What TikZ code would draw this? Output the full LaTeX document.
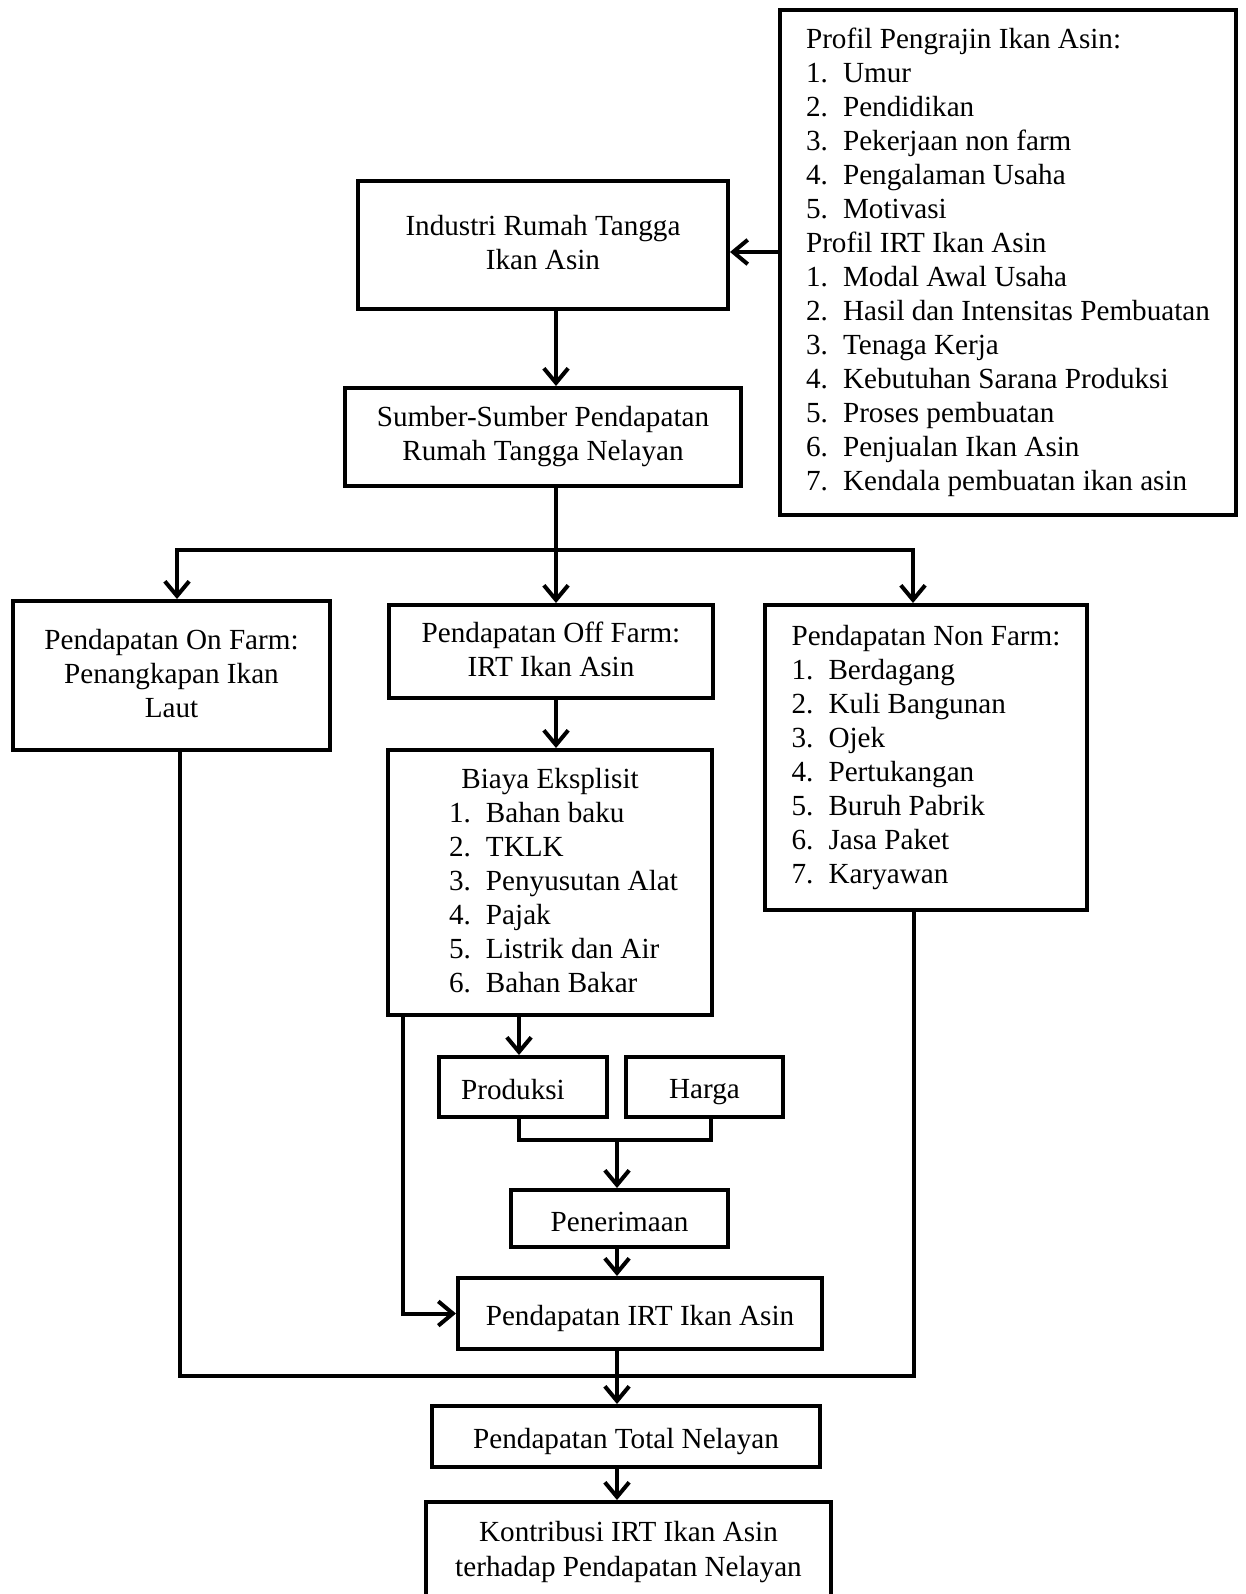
\documentclass[tikz,border=0pt]{standalone}
\usepackage{fontspec}
\setmainfont{Liberation Serif}
\usetikzlibrary{arrows.meta, positioning}
\newlength{\px}
\setlength{\px}{0.4115pt}
\newcommand{\butir}[2]{\makebox[37\px][l]{#1.}#2}
\newcommand{\penyangga}{\rule[-1.85pt]{0pt}{14pt}}

\begin{document}
\begin{tikzpicture}[
  x=0.4115pt, y=-0.4115pt,
  % Estilos de nodos
  kotak/.style={
    rectangle, draw=black, line width=1.65pt,
    align=center, inner sep=0pt,
    font=\fontsize{12}{14}\selectfont,
    execute at begin node=\penyangga,
    execute at end node=\penyangga
  },
  kotakDaftar/.style={
    kotak, align=left
  },
  % Estilo de flechas
  panah/.style={
    -{Straight Barb[length=6pt, width=10pt]}, line width=1.65pt
  },
  garis/.style={
    line width=1.65pt
  }
]

\path[use as bounding box, fill=white] (0,0) rectangle (1246,1594);

% --- Profil ---
\node[kotakDaftar, minimum width=456\px, minimum height=505\px]
  (profil) at (1008, 262.5) {Profil Pengrajin Ikan Asin:\\
  \butir{1}{Umur}\\
  \butir{2}{Pendidikan}\\
  \butir{3}{Pekerjaan non farm}\\
  \butir{4}{Pengalaman Usaha}\\
  \butir{5}{Motivasi}\\
  Profil IRT Ikan Asin\\
  \butir{1}{Modal Awal Usaha}\\
  \butir{2}{Hasil dan Intensitas Pembuatan}\\
  \butir{3}{Tenaga Kerja}\\
  \butir{4}{Kebutuhan Sarana Produksi}\\
  \butir{5}{Proses pembuatan}\\
  \butir{6}{Penjualan Ikan Asin}\\
  \butir{7}{Kendala pembuatan ikan asin}};

% --- Nivel superior ---
\node[kotak, minimum width=370\px, minimum height=128\px]
  (industri) at (543, 245) {Industri Rumah Tangga\\Ikan Asin};
\node[kotak, minimum width=396\px, minimum height=98\px]
  (sumber) at (543, 437) {Sumber-Sumber Pendapatan\\Rumah Tangga Nelayan};

% --- Sumber pendapatan ---
\node[kotak, minimum width=317\px, minimum height=149\px]
  (onfarm) at (171.5, 675.5) {Pendapatan On Farm:\\Penangkapan Ikan\\Laut};
\node[kotak, minimum width=324\px, minimum height=93\px]
  (offfarm) at (551, 651.5) {Pendapatan Off Farm:\\IRT Ikan Asin};
\node[kotakDaftar, minimum width=322\px, minimum height=305\px]
  (nonfarm) at (926, 757.5) {Pendapatan Non Farm:\\
  \butir{1}{Berdagang}\\
  \butir{2}{Kuli Bangunan}\\
  \butir{3}{Ojek}\\
  \butir{4}{Pertukangan}\\
  \butir{5}{Buruh Pabrik}\\
  \butir{6}{Jasa Paket}\\
  \butir{7}{Karyawan}};

% --- Biaya dan penerimaan ---
\node[kotakDaftar, minimum width=324\px, minimum height=265\px]
  (biaya) at (550, 882.5) {\makebox[304\px]{Biaya Eksplisit}\\
  \hspace*{51\px}\butir{1}{Bahan baku}\\
  \hspace*{51\px}\butir{2}{TKLK}\\
  \hspace*{51\px}\butir{3}{Penyusutan Alat}\\
  \hspace*{51\px}\butir{4}{Pajak}\\
  \hspace*{51\px}\butir{5}{Listrik dan Air}\\
  \hspace*{51\px}\butir{6}{Bahan Bakar}};
\node[kotak, minimum width=168\px, minimum height=60\px]
  (produksi) at (523, 1087) {Produksi\hspace*{20\px}};
\node[kotak, minimum width=157\px, minimum height=60\px]
  (harga) at (704.5, 1087) {Harga};
\node[kotak, minimum width=217\px, minimum height=57\px]
  (penerimaan) at (619.5, 1218.5) {Penerimaan};
\node[kotak, minimum width=364\px, minimum height=71\px]
  (pirt) at (640, 1313.5) {Pendapatan IRT Ikan Asin};

% --- Pendapatan total ---
\node[kotak, minimum width=388\px, minimum height=61\px]
  (total) at (626, 1436.5) {Pendapatan Total Nelayan};
\node[kotak, minimum width=405\px, minimum height=100\px]
  (kontribusi) at (628.5, 1552) {Kontribusi IRT Ikan Asin\\terhadap Pendapatan Nelayan};

% --- Titik cabang ---
\coordinate (masuk)     at (750, 252);
\coordinate (cabang)    at (556, 550);
\coordinate (kiri)      at (177, 550);
\coordinate (kanan)     at (913, 550);
\coordinate (sumbuP)    at (519, 1140);
\coordinate (sumbuH)    at (711, 1140);
\coordinate (jual)      at (617, 1140);
\coordinate (biayaKiri) at (403, 1310);
\coordinate (gabung)    at (617, 1376);
\coordinate (kiriB)     at (180, 1376);
\coordinate (kananB)    at (914, 1376);

% --- Flechas atas ---
\draw[panah] (profil.west |- masuk) -- (industri.east |- masuk);
\draw[panah] (industri.south -| cabang) -- (sumber.north -| cabang);
\draw[garis] (sumber.south -| cabang) -- (cabang);
\draw[panah] (cabang) -- (offfarm.north -| cabang);
\draw[panah] (cabang) -- (kiri) -- (onfarm.north -| kiri);
\draw[panah] (cabang) -- (kanan) -- (nonfarm.north -| kanan);

% --- Flechas off farm ---
\draw[panah] (offfarm.south -| cabang) -- (biaya.north -| cabang);
\draw[panah] (biaya.south -| sumbuP) -- (produksi.north -| sumbuP);
\draw[garis] (produksi.south -| sumbuP) -- (sumbuP) -- (sumbuH) -- (harga.south -| sumbuH);
\draw[panah] (jual) -- (penerimaan.north -| jual);
\draw[panah] (penerimaan.south -| gabung) -- (pirt.north -| gabung);
\draw[panah] (biaya.south -| biayaKiri) |- (pirt.west);

% --- Flechas bawah ---
\draw[garis] (pirt.south -| gabung) -- (gabung);
\draw[garis] (onfarm.south -| kiriB) -- (kiriB) -- (kananB) -- (nonfarm.south -| kananB);
\draw[panah] (gabung) -- (total.north -| gabung);
\draw[panah] (total.south -| gabung) -- (kontribusi.north -| gabung);

\end{tikzpicture}
\end{document}
